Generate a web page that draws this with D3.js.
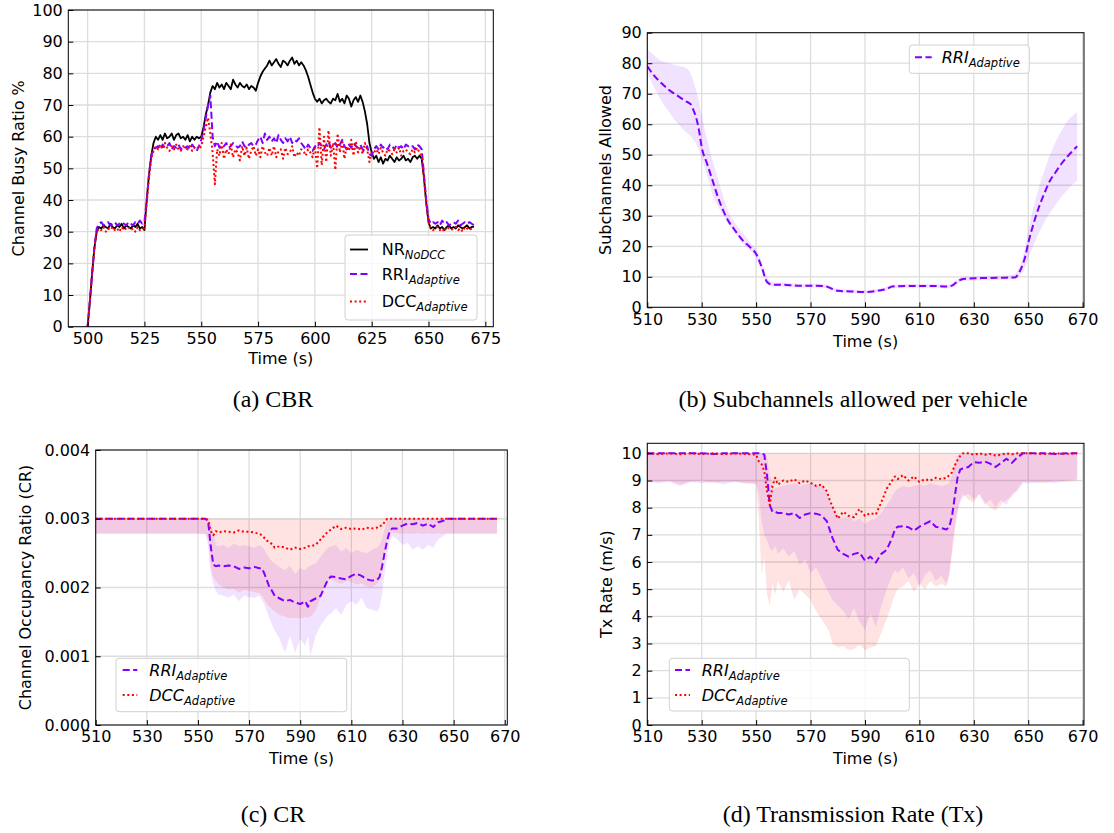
<!DOCTYPE html>
<html>
<head>
<meta charset="utf-8">
<script src="https://cdn.jsdelivr.net/npm/d3@7"></script>
<style>
  body { margin: 0; background: #fff; }
  svg { display: block; }
</style>
</head>
<body>
<svg id="fig" width="1114" height="833"></svg>
<script>
// ---------------- (a) Channel Busy Ratio, one sample per second from 500 s ----------------
const cbrStart = 500;
const cbrNoDcc = [
  0, 8, 17, 25, 30,
  31.5, 31, 32, 31.5, 31, 32.5, 31.5, 31, 32, 31.5, 32.5, 31, 32, 31.5, 31, 32, 31.5, 32.5, 31, 31.5, 30.5,
  40, 48, 54, 58,
  60, 59, 60.5, 59, 61, 59.5, 60, 61, 59, 60.5, 61, 59.5, 60, 59, 60.5, 58.5, 60, 59, 60, 59.5,
  60, 63, 67, 70, 74,
  76, 75, 77, 75.5, 76.5, 75, 77, 76, 75, 78, 76.5, 75.5, 77, 76, 75.5, 76.5, 75, 76, 75.5, 74.5,
  77, 79, 80.5, 81.5, 82.5,
  84, 82.5, 83.5, 84.5, 83, 82, 84, 83.5, 82.5, 84, 85, 83, 84, 82.5, 83.5,
  82.5, 81, 79, 76.5, 74, 72,
  71, 72, 70.5, 71.5, 72, 71, 70.5, 72, 71.5, 73.5, 71, 72, 70.5, 73, 72, 69.5, 71.5, 72.5, 71,
  73, 71, 68, 64, 58, 55,
  53, 54, 52, 53.5, 51.5, 53, 52.5, 54, 53, 52, 53.5, 52.5, 53, 54, 52.5, 53, 52, 53.5, 54, 53, 54, 53,
  47, 39, 33, 31,
  31.5, 31, 32, 31, 31.5, 30.5, 31.5, 32, 31, 31.5, 31, 32, 31.5, 31, 31.5, 32, 31, 31.5, 31.5
];
const cbrRri = [
  0, 8, 17, 25, 31,
  32.5, 33, 32, 32.5, 33, 32, 32.5, 33, 32, 32.5, 33, 32.5, 32, 33, 32.5, 32, 33, 32.5, 33.5, 32.5, 33,
  40, 48, 54, 56,
  56.5, 57, 56, 57.5, 56.5, 57, 58, 56, 57, 56.5, 57.5, 56, 57, 56.5, 57, 56, 57.5, 56.5, 55.5, 57,
  59, 62, 66, 70, 73,
  60, 57, 58.5, 56.5, 57.5, 57, 58, 56.5, 57, 58, 57.5, 56.5, 57, 58.5, 57, 56.5, 57.5, 58, 57, 57.5,
  59, 60, 58, 61, 59,
  60, 58.5, 59.5, 58, 60.5, 59, 58, 59.5, 58.5, 60, 58, 59, 58.5, 59.5, 58,
  57, 56, 57.5, 56.5, 55.5, 57,
  56.5, 58, 57, 56, 57.5, 58.5, 56.5, 57, 58, 56.5, 57.5, 59, 57, 56, 57.5, 56.5, 58, 57, 56.5,
  57.5, 56, 55.5, 57, 54.5, 54,
  56, 57, 56, 57.5, 56.5, 57, 56, 57.5, 57, 56, 57.5, 56.5, 57, 56, 57.5, 57, 56.5, 57, 56, 57.5, 57, 56,
  48, 40, 34, 32.5,
  33, 32.5, 33, 32, 33.5, 32.5, 33, 32, 32.5, 33, 32.5, 33.5, 32, 32.5, 33, 32.5, 33, 32.5, 32
];
const cbrDcc = [
  0, 8, 17, 25, 30,
  31, 30.5, 31.5, 30, 31, 30.5, 31.5, 30.5, 31, 30, 31.5, 30.5, 31, 31.5, 30.5, 31, 30, 31.5, 30.5, 31, 31,
  39, 47, 53, 55.5,
  57, 56, 57.5, 56, 58, 56.5, 55.5, 57, 56, 57.5, 56, 55.5, 57, 56.5, 56, 57, 55.5, 56.5, 57, 56,
  57, 60, 63, 66, 61,
  55, 45, 56, 54, 58, 53, 56, 54.5, 57.5, 53.5, 56, 55, 52.5, 57, 54, 56.5, 53, 55.5, 57, 54,
  56, 53.5, 57, 55, 54,
  56.5, 54, 57, 53.5, 55.5, 56, 53, 56.5, 54.5, 55, 57, 53.5, 55, 54, 56,
  55.5, 54, 56, 55, 53.5, 57,
  50, 63, 51, 60, 52, 62, 54, 58, 49.5, 61, 55, 59, 53, 57, 55.5, 59, 54, 58.5, 55,
  57, 54.5, 58, 56, 52, 55,
  55, 56, 54.5, 56.5, 55, 54, 56, 55.5, 54.5, 56, 55, 56.5, 54, 55.5, 56, 55, 54.5, 56, 55, 56.5, 55, 54,
  47, 39, 33, 31,
  30.5, 31, 31.5, 30.5, 31, 30, 31.5, 31, 30.5, 31, 31.5, 30.5, 31, 30, 31.5, 31, 30.5, 31, 31
];
const cbrXTicks = [500, 525, 550, 575, 600, 625, 650, 675];
const cbrYTicks = [0, 10, 20, 30, 40, 50, 60, 70, 80, 90, 100];

// ---------------- (b) Subchannels allowed per vehicle ----------------
const subTime = [510,512,514,516,518,520,522,524,526,527,528,529,530,532,534,536,538,540,542,545,548,550,552,554,556,560,565,570,575,578,580,585,590,595,598,600,605,610,615,620,622,624,626,628,630,635,640,645,647,649,650,652,654,656,658,660,662,664,666,668];
const subMean = [79,76.5,74.5,72.8,71.2,70,68.8,67.6,66.5,64.5,62,58,52.5,47,41.5,36,31.5,28,25.5,22,19.5,17.5,13.3,8.3,7.4,7.4,7.1,7.1,7,6,5.4,5.2,5,5.5,6,6.8,7,7,7,6.8,7.1,8.5,9.3,9.4,9.5,9.6,9.7,9.8,12,17,21,27.5,33,37.5,41.5,44.2,46.8,49,51,52.8];
const subHi = [84.5,83,81.5,80.5,80,79.5,79,78.5,76.5,74,71,67.5,63,55,48,42,36,31,28,24.5,21,19,15,10,8.2,8.1,7.8,7.7,7.6,6.6,6,5.8,5.6,6.1,6.6,7.4,7.6,7.6,7.6,7.4,7.8,9.2,10,10.1,10.2,10.3,10.4,10.8,14,20,25,33,39.5,45,50,54,57.5,60.5,62.5,64];
const subLo = [77,73,69.5,66.5,64,61.5,59.5,57.5,56,55,53.5,51.5,49,43,37,33,30,27,24.5,21,18.5,16,12,7.5,6.8,6.8,6.5,6.5,6.4,5.5,4.9,4.7,4.5,5,5.5,6.2,6.4,6.4,6.4,6.2,6.5,7.8,8.6,8.7,8.8,8.9,9,9.1,10.5,13.5,16,20.5,24.5,28,31,33.5,36,38,40,41.5];
const timeTicks = [510, 530, 550, 570, 590, 610, 630, 650, 670];
const subYTicks = [0, 10, 20, 30, 40, 50, 60, 70, 80, 90];

// ---------------- (c) Channel occupancy ratio ----------------
const crTime = [510,520,530,540,550, 553,554,555,556,557,558, 560,562,564,566,568,570,572,574, 575,576,577,578,579,580, 582,584,586,588,590,592, 593,594,596,598,600, 601,602,604,606,608,610, 612,614,616,618,620, 621,622,623,624,625,626, 628,630,632,634,636,638,640, 642,644,646,647, 650,660,667];
const crRri = [
  0.0030,0.0030,0.0030,0.0030,0.0030,
  0.0030,0.00295,0.00260,0.00233,0.00231,0.00232,
  0.00231,0.00232,0.00231,0.00227,0.00229,0.00228,0.00230,0.00228,
  0.00228,0.00220,0.00210,0.00200,0.00195,0.00188,
  0.00184,0.00180,0.00182,0.00178,0.00176,0.00180,
  0.00172,0.00180,0.00184,0.00188,0.00205,
  0.00212,0.00216,0.00215,0.00213,0.00212,0.00217,
  0.00220,0.00217,0.00212,0.00210,0.00211,
  0.00215,0.00230,0.00250,0.00268,0.00282,0.00286,
  0.00286,0.00290,0.00293,0.00292,0.00294,0.00290,0.00293,
  0.00288,0.00295,0.00297,0.0030,
  0.0030,0.0030,0.0030
];
const crDcc = [
  0.0030,0.0030,0.0030,0.0030,0.0030,
  0.0030,0.00298,0.00282,0.00276,0.00282,0.00280,
  0.00282,0.00281,0.00280,0.00283,0.00281,0.00281,0.00280,0.00278,
  0.00276,0.00272,0.00268,0.00266,0.00263,0.00258,
  0.00260,0.00258,0.00255,0.00258,0.00256,0.00258,
  0.00260,0.00260,0.00262,0.00270,0.00278,
  0.00282,0.00284,0.00290,0.00285,0.00287,0.00285,
  0.00286,0.00284,0.00287,0.00286,0.00287,
  0.00290,0.00290,0.00295,0.0030,0.0030,0.0030,
  0.0030,0.0030,0.0030,0.0030,0.0030,0.0030,0.0030,
  0.0030,0.0030,0.0030,0.0030,
  0.0030,0.0030,0.0030
];
const crRriLo = [
  0.00278,0.00279,0.00278,0.00279,0.00278,
  0.00278,0.00260,0.00220,0.00205,0.00195,0.00190,
  0.00188,0.00185,0.00190,0.00180,0.00188,0.00186,0.00185,0.00188,
  0.00182,0.00175,0.00165,0.00155,0.00145,0.00138,
  0.00125,0.00105,0.00130,0.00105,0.00125,0.00115,
  0.00130,0.00100,0.00130,0.00145,0.00155,
  0.00160,0.00162,0.00170,0.00160,0.00175,0.00180,
  0.00175,0.00185,0.00170,0.00168,0.00165,
  0.00170,0.00190,0.00220,0.00245,0.00265,0.00275,
  0.00270,0.00262,0.00265,0.00255,0.00260,0.00255,0.00262,
  0.00258,0.00270,0.00275,0.00278,
  0.00279,0.00278,0.00279
];
const crRriHi = [
  0.0030,0.0030,0.0030,0.0030,0.0030,
  0.0030,0.0030,0.00295,0.00280,0.00262,0.00260,
  0.00262,0.00258,0.00264,0.00260,0.00262,0.00260,0.00258,0.00262,
  0.00260,0.00255,0.00248,0.00242,0.00238,0.00235,
  0.00230,0.00225,0.00232,0.00220,0.00228,0.00225,
  0.00230,0.00232,0.00235,0.00245,0.00255,
  0.00258,0.00260,0.00262,0.00252,0.00258,0.00250,
  0.00255,0.00252,0.00250,0.00255,0.00258,
  0.00262,0.00270,0.00285,0.00295,0.0030,0.0030,
  0.0030,0.0030,0.0030,0.0030,0.0030,0.0030,0.0030,
  0.0030,0.0030,0.0030,0.0030,
  0.0030,0.0030,0.0030
];
const crDccLo = [
  0.00279,0.00278,0.00279,0.00278,0.00279,
  0.00278,0.00270,0.00230,0.00215,0.00210,0.00205,
  0.00200,0.00197,0.00198,0.00193,0.00196,0.00195,0.00193,0.00192,
  0.00188,0.00182,0.00176,0.00172,0.00168,0.00165,
  0.00160,0.00158,0.00155,0.00156,0.00155,0.00157,
  0.00156,0.00158,0.00166,0.00185,0.00205,
  0.00210,0.00212,0.00208,0.00205,0.00210,0.00208,
  0.00204,0.00206,0.00202,0.00200,0.00205,
  0.00210,0.00230,0.00250,0.00270,0.00278,0.00280,
  0.00279,0.00278,0.00279,0.00278,0.00279,0.00278,0.00279,
  0.00278,0.00279,0.00278,0.00279,
  0.00278,0.00279,0.00278
];
const crDccHi = 0.003;
const crYTicks = [0, 0.001, 0.002, 0.003, 0.004];

// ---------------- (d) Transmission rate ----------------
const txTime = [510,514,518,522,526,530,534,538,542,546,550, 551,552,553,554,555,556,557,558, 560,562,564,566,568,570,572,574,576, 577,578, 580,582,584,586,588,590,592,594,596,598,600, 601,602, 604,606,608,610,612,614,616,618,620, 621,622,623,624,625,626, 628,630,632,634,636,638,640,642,644,646,648, 652,656,660,664,668];
const txRri = [
  10,10,10,10,10,10,9.98,10,10,10,10,
  10,10,9.95,9.2,8.1,7.85,7.85,7.8,
  7.8,7.75,7.8,7.62,7.75,7.8,7.78,7.72,7.5,
  7.2,6.9,
  6.45,6.3,6.2,6.3,6.35,6.05,6.2,5.98,6.3,6.45,6.9,
  7.2,7.3,
  7.32,7.28,7.15,7.3,7.4,7.5,7.3,7.25,7.2,
  7.3,7.7,8.4,9.1,9.4,9.45,
  9.5,9.68,9.65,9.7,9.62,9.5,9.65,9.8,9.65,9.85,10,
  10,10,9.98,10,10
];
const txDcc = [
  10,9.97,10,9.97,10,9.97,10,9.97,10,9.98,9.95,
  9.7,9.6,9.35,8.6,8.1,8.8,9.1,8.85,
  9.0,8.95,9.05,8.9,9.0,8.92,8.8,8.85,8.6,
  8.3,8.05,
  7.6,7.85,7.7,7.65,7.95,7.7,7.8,7.75,8.2,8.7,9.0,
  9.15,9.05,
  9.2,9.0,9.15,8.95,9.05,9.0,9.1,9.05,9.1,
  9.2,9.3,9.55,9.75,9.9,10,
  10,9.95,10,9.95,9.98,9.92,9.95,10,9.97,10,10,
  10,9.98,10,9.98,10
];
const txRriLo = [
  8.95,8.9,8.95,8.8,8.95,8.9,8.95,8.85,8.95,8.9,8.9,
  8.5,7.5,7.0,6.8,6.5,6.4,6.6,6.3,
  6.5,6.2,6.4,5.9,6.1,5.6,5.8,5.4,5.0,
  4.8,4.6,
  4.4,4.2,3.9,4.3,3.8,3.5,4.1,3.6,4.4,5.0,5.5,
  5.7,5.6,
  5.8,5.4,5.6,5.1,5.5,5.7,5.3,5.5,5.2,
  5.6,6.5,7.3,7.9,8.2,8.4,
  8.5,8.3,8.5,8.1,8.3,8.0,8.3,8.1,8.5,8.6,8.9,
  8.9,8.95,8.9,9.0,9.05
];
const txRriHi = [
  10,10,10,10,10,10,10,10,10,10,10,
  10,10,10,9.9,9.2,8.8,8.7,8.75,
  8.8,8.85,8.9,8.8,8.85,8.9,8.85,8.8,8.6,
  8.3,8.0,
  7.7,7.6,7.7,7.5,7.6,7.4,7.55,7.6,7.8,8.1,8.4,
  8.6,8.7,
  8.8,8.75,8.8,8.85,8.8,8.9,8.85,8.8,8.85,
  8.9,9.2,9.6,9.9,10,10,
  10,10,10,10,10,10,10,10,10,10,10,
  10,10,10,10,10
];
const txDccLo = [
  9.0,8.95,9.0,8.85,8.95,9.0,8.9,8.95,8.95,8.9,8.85,
  7.5,5.5,6.2,4.8,4.4,5.2,4.8,5.3,
  4.9,5.3,4.6,5.0,4.8,4.6,4.2,3.9,3.6,
  3.4,3.0,
  2.85,2.9,2.75,2.8,2.95,2.75,2.85,2.9,3.4,3.9,4.5,
  4.8,5.0,
  5.1,5.3,4.9,5.2,5.0,5.3,5.1,5.2,5.1,
  5.5,6.3,7.1,7.8,8.3,8.5,
  8.3,8.2,8.5,8.2,8.0,7.9,8.1,8.3,8.4,8.7,8.95,
  8.95,8.9,9.0,8.95,9.0
];
const txDccHi = 10;
const txYTicks = [0, 1, 2, 3, 4, 5, 6, 7, 8, 9, 10];

// ---------------- drawing ----------------
const SANS = "'DejaVu Sans', sans-serif";
const SERIF = "'Liberation Serif', 'Times New Roman', serif";
const PURPLE = "#7f00ff";
const RED = "#ff0000";
const svg = d3.select("#fig");

const styles = {
  nodcc: { stroke: "#000", width: 1.8, dash: null },
  rri:   { stroke: PURPLE, width: 2, dash: "7,3.5" },
  dcc:   { stroke: RED, width: 2, dash: "2,2.6" }
};

function makePanel(p) {
  const x = d3.scaleLinear().domain(p.xDomain).range([p.left, p.right]);
  const y = d3.scaleLinear().domain(p.yDomain).range([p.bottom, p.top]);
  const g = svg.append("g");

  g.append("clipPath").attr("id", "clip-" + p.id)
    .append("rect").attr("x", p.left).attr("y", p.top)
    .attr("width", p.right - p.left).attr("height", p.bottom - p.top);

  // grid
  const grid = g.append("g").attr("stroke", "#dddddd").attr("stroke-width", 1.3);
  grid.selectAll("line.gx").data(p.xTicks).join("line").attr("class", "gx")
    .attr("x1", d => x(d)).attr("x2", d => x(d)).attr("y1", p.top).attr("y2", p.bottom);
  grid.selectAll("line.gy").data(p.yTicks).join("line").attr("class", "gy")
    .attr("x1", p.left).attr("x2", p.right).attr("y1", d => y(d)).attr("y2", d => y(d));

  const plot = g.append("g").attr("clip-path", `url(#clip-${p.id})`);

  // axes with inward ticks
  const ax = g.append("g").attr("transform", `translate(0,${p.bottom})`)
    .call(d3.axisBottom(x).tickValues(p.xTicks).tickFormat(d3.format("d"))
      .tickSizeInner(-5).tickSizeOuter(0).tickPadding(6));
  const ay = g.append("g").attr("transform", `translate(${p.left},0)`)
    .call(d3.axisLeft(y).tickValues(p.yTicks).tickFormat(p.yFormat)
      .tickSizeInner(-5).tickSizeOuter(0).tickPadding(5.5));
  [ax, ay].forEach(a => {
    a.attr("font-family", SANS).attr("font-size", 16);
    a.select(".domain").remove();
    a.selectAll(".tick line").attr("stroke", "#000").attr("stroke-width", 1);
    a.selectAll(".tick text").attr("fill", "#000");
  });

  // frame
  g.append("rect").attr("x", p.left).attr("y", p.top)
    .attr("width", p.right - p.left).attr("height", p.bottom - p.top)
    .attr("fill", "none").attr("stroke", "#000").attr("stroke-width", 1);

  // axis titles
  g.append("text").attr("x", (p.left + p.right) / 2).attr("y", p.xLabelY)
    .attr("text-anchor", "middle").attr("font-family", SANS).attr("font-size", 16)
    .text(p.xLabel);
  g.append("text")
    .attr("transform", `translate(${p.yLabelX},${(p.top + p.bottom) / 2}) rotate(-90)`)
    .attr("text-anchor", "middle").attr("font-family", SANS).attr("font-size", 16)
    .text(p.yLabel);

  // caption
  svg.append("text").attr("x", p.capX).attr("y", p.capY)
    .attr("text-anchor", "middle").attr("font-family", SERIF).attr("font-size", 24)
    .text(p.caption);

  const legendLayer = g.append("g");
  return { x, y, plot, legendLayer };
}

function drawLine(P, rows, key, style, curve) {
  P.plot.append("path").datum(rows)
    .attr("fill", "none").attr("stroke", style.stroke).attr("stroke-width", style.width)
    .attr("stroke-dasharray", style.dash).attr("stroke-linejoin", "round")
    .attr("d", d3.line().x(d => P.x(d.t)).y(d => P.y(d[key])).curve(curve || d3.curveLinear));
}

function drawBand(P, rows, lo, hi, color, curve) {
  P.plot.append("path").datum(rows)
    .attr("fill", color).attr("fill-opacity", 0.11).attr("stroke", "none")
    .attr("d", d3.area().x(d => P.x(d.t)).y0(d => P.y(d[lo])).y1(d => P.y(d[hi]))
      .curve(curve || d3.curveLinear));
}

function drawLegend(P, box, entries) {
  const L = P.legendLayer;
  L.append("rect").attr("x", box.x).attr("y", box.y).attr("width", box.w).attr("height", box.h)
    .attr("rx", 3).attr("fill", "#fff").attr("fill-opacity", 0.8)
    .attr("stroke", "#d0d0d0").attr("stroke-width", 1);
  entries.forEach(e => {
    L.append("line").attr("x1", box.sx0).attr("x2", box.sx1).attr("y1", e.y).attr("y2", e.y)
      .attr("stroke", e.style.stroke).attr("stroke-width", e.style.width)
      .attr("stroke-dasharray", e.style.dash);
    const t = L.append("text").attr("x", box.tx).attr("y", e.y + 5.5)
      .attr("font-family", SANS).attr("font-size", 16);
    t.append("tspan").attr("font-style", e.italic ? "italic" : "normal").text(e.main);
    t.append("tspan").attr("font-style", "italic").attr("font-size", 11.5).attr("dy", 4).text(e.sub);
  });
}

// ---- panel (a)
const A = makePanel({
  id: "a", left: 68.3, right: 493.3, top: 10, bottom: 326.7,
  xDomain: [491.5, 678.5], yDomain: [0, 100], xTicks: cbrXTicks, yTicks: cbrYTicks,
  yFormat: d3.format("d"), xLabel: "Time (s)", xLabelY: 364,
  yLabel: "Channel Busy Ratio %", yLabelX: 23.5,
  caption: "(a) CBR", capX: 273, capY: 407
});
const cbrRows = cbrNoDcc.map((v, i) => ({ t: cbrStart + i, nodcc: v, rri: cbrRri[i], dcc: cbrDcc[i] }));
drawLine(A, cbrRows, "nodcc", styles.nodcc);
drawLine(A, cbrRows, "rri", styles.rri);
drawLine(A, cbrRows, "dcc", styles.dcc);
drawLegend(A, { x: 345, y: 235, w: 132, h: 85, sx0: 350, sx1: 368, tx: 381.7 }, [
  { main: "NR", sub: "NoDCC", italic: false, style: styles.nodcc, y: 249.5 },
  { main: "RRI", sub: "Adaptive", italic: false, style: styles.rri, y: 274 },
  { main: "DCC", sub: "Adaptive", italic: false, style: styles.dcc, y: 301.5 }
]);

// ---- panel (b)
const B = makePanel({
  id: "b", left: 647.3, right: 1084, top: 32.7, bottom: 307.3,
  xDomain: [510, 670.5], yDomain: [0, 90], xTicks: timeTicks, yTicks: subYTicks,
  yFormat: d3.format("d"), xLabel: "Time (s)", xLabelY: 346.5,
  yLabel: "Subchannels Allowed", yLabelX: 611,
  caption: "(b) Subchannels allowed per vehicle", capX: 853, capY: 407
});
const subRows = subTime.map((t, i) => ({ t, mean: subMean[i], lo: subLo[i], hi: subHi[i] }));
drawBand(B, subRows, "lo", "hi", PURPLE, d3.curveMonotoneX);
drawLine(B, subRows, "mean", styles.rri, d3.curveMonotoneX);
drawLegend(B, { x: 909.3, y: 45, w: 120, h: 28.3, sx0: 915, sx1: 931.7, tx: 941.7 }, [
  { main: "RRI", sub: "Adaptive", italic: true, style: styles.rri, y: 57.3 }
]);

// ---- panel (c)
const C = makePanel({
  id: "c", left: 95.7, right: 507.3, top: 450, bottom: 725,
  xDomain: [510, 671], yDomain: [0, 0.004], xTicks: timeTicks, yTicks: crYTicks,
  yFormat: d3.format(".3f"), xLabel: "Time (s)", xLabelY: 763.5,
  yLabel: "Channel Occupancy Ratio (CR)", yLabelX: 30.5,
  caption: "(c) CR", capX: 273, capY: 822
});
const crRows = crTime.map((t, i) => ({
  t, rri: crRri[i], dcc: crDcc[i], rriLo: crRriLo[i], rriHi: crRriHi[i], dccLo: crDccLo[i], dccHi: crDccHi
}));
drawBand(C, crRows, "rriLo", "rriHi", PURPLE);
drawBand(C, crRows, "dccLo", "dccHi", RED);
drawLine(C, crRows, "rri", styles.rri);
drawLine(C, crRows, "dcc", styles.dcc);
drawLegend(C, { x: 116, y: 658.3, w: 230.7, h: 53.4, sx0: 122.7, sx1: 137.3, tx: 149.3 }, [
  { main: "RRI", sub: "Adaptive", italic: true, style: styles.rri, y: 670 },
  { main: "DCC", sub: "Adaptive", italic: true, style: styles.dcc, y: 695 }
]);

// ---- panel (d)
const D = makePanel({
  id: "d", left: 647.3, right: 1084, top: 443.3, bottom: 725,
  xDomain: [510, 670.5], yDomain: [0, 10.37], xTicks: timeTicks, yTicks: txYTicks,
  yFormat: d3.format("d"), xLabel: "Time (s)", xLabelY: 763.5,
  yLabel: "Tx Rate (m/s)", yLabelX: 612,
  caption: "(d) Transmission Rate (Tx)", capX: 853, capY: 822
});
const txRows = txTime.map((t, i) => ({
  t, rri: txRri[i], dcc: txDcc[i], rriLo: txRriLo[i], rriHi: txRriHi[i], dccLo: txDccLo[i], dccHi: txDccHi
}));
drawBand(D, txRows, "rriLo", "rriHi", PURPLE);
drawBand(D, txRows, "dccLo", "dccHi", RED);
drawLine(D, txRows, "rri", styles.rri);
drawLine(D, txRows, "dcc", styles.dcc);
drawLegend(D, { x: 669.3, y: 658.3, w: 240, h: 52.7, sx0: 675, sx1: 690, tx: 701.7 }, [
  { main: "RRI", sub: "Adaptive", italic: true, style: styles.rri, y: 670 },
  { main: "DCC", sub: "Adaptive", italic: true, style: styles.dcc, y: 695 }
]);
</script>
</body>
</html>
